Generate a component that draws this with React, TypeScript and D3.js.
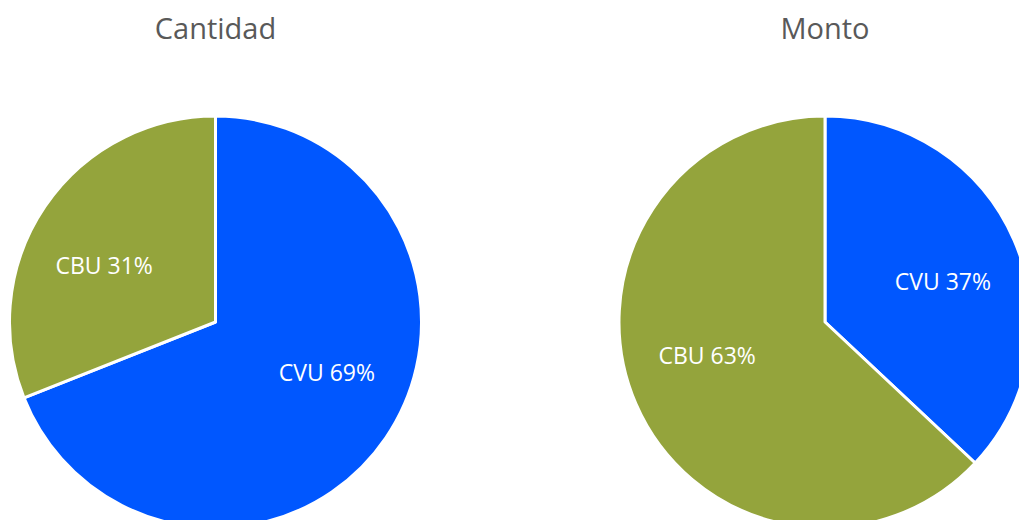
import React from "react";
import * as d3 from "d3";

const categories = ["CVU", "CBU"];
const cantidadValues = [69, 31];
const montoValues = [37, 63];
const chartTitles = ["Cantidad", "Monto"];
const colors = ["#0057FF", "#94A43C"];

const W = 1019;
const H = 520;
const R = 206;
const centers = [
  { x: 215.5, y: 322 },
  { x: 825, y: 322 },
];

function Pie({ values, title, cx, cy }: { values: number[]; title: string; cx: number; cy: number }) {
  const data = categories.map((c, i) => ({ cat: c, value: values[i], color: colors[i] }));
  const pie = d3.pie<any>().sort(null).value((d: any) => d.value);
  const arcs = pie(data);
  const arc = d3.arc<any>().innerRadius(0).outerRadius(R);
  const labelR = R * 0.6;
  return (
    <g>
      <text
        x={cx}
        y={27}
        textAnchor="middle"
        dominantBaseline="central"
        fontFamily="'Open Sans', sans-serif"
        fontSize={29}
        fill="#595959"
      >
        {title}
      </text>
      <g transform={`translate(${cx},${cy})`}>
        {arcs.map((a, i) => (
          <path key={i} d={arc(a) as string} fill={a.data.color} stroke="#fff" strokeWidth={3} strokeLinejoin="round" />
        ))}
        {arcs.map((a, i) => {
          // mid angle, pulled toward the horizontal (best-fit style placement)
          const mid = (a.startAngle + a.endAngle) / 2;
          const horiz = Math.sin(mid) >= 0 ? Math.PI / 2 : (3 * Math.PI) / 2;
          const ang = horiz + (mid - horiz) * 0.75;
          const lx = labelR * Math.sin(ang);
          const ly = -labelR * Math.cos(ang);
          return (
            <text
              key={"l" + i}
              x={lx}
              y={ly - 4}
              textAnchor="middle"
              dominantBaseline="central"
              fontFamily="'Open Sans', sans-serif"
              fontSize={23}
              fill="#fff"
            >
              {`${a.data.cat} ${a.data.value}%`}
            </text>
          );
        })}
      </g>
    </g>
  );
}

export default function App() {
  return (
    <svg width={W} height={H} style={{ position: "absolute", left: 0, top: 0, background: "#fff" }}>
      <Pie values={cantidadValues} title={chartTitles[0]} cx={centers[0].x} cy={centers[0].y} />
      <Pie values={montoValues} title={chartTitles[1]} cx={centers[1].x} cy={centers[1].y} />
    </svg>
  );
}
